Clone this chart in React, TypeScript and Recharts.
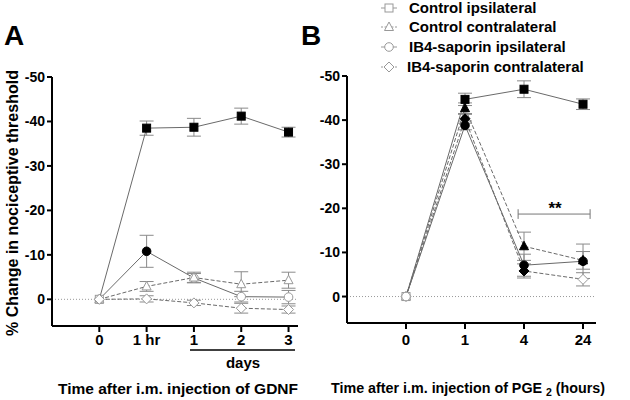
import { LineChart, Line, XAxis, YAxis, ErrorBar, ReferenceLine } from 'recharts'

// Panel A: GDNF time course
const gdnfX = [0, 1, 2, 3, 4]
const gdnfTicks = ['0', '1 hr', '1', '2', '3']
const gdnfCtrlIpsi = [0, -38.5, -38.7, -41.2, -37.6]
const gdnfCtrlIpsiErr = [0, 1.6, 2.0, 1.8, 1.1]
const gdnfCtrlIpsiFilled = [false, true, true, true, true]
const gdnfCtrlContra = [0, -2.9, -4.9, -3.4, -4.3]
const gdnfCtrlContraErr = [0, 1.1, 1.2, 2.8, 1.8]
const gdnfCtrlContraFilled = [false, false, false, false, false]
const gdnfIb4Ipsi = [0, -10.8, -4.8, -0.6, -0.5]
const gdnfIb4IpsiErr = [0, 3.6, 1.0, 1.2, 1.5]
const gdnfIb4IpsiFilled = [false, true, false, false, false]
const gdnfIb4Contra = [0, -0.1, 0.8, 2.0, 2.3]
const gdnfIb4ContraErr = [0, 0.7, 0.6, 1.1, 0.8]
const gdnfIb4ContraFilled = [false, false, false, false, false]

// Panel B: PGE2 time course
const pgeX = [0, 1, 2, 3]
const pgeTicks = ['0', '1', '4', '24']
const pgeCtrlIpsi = [0, -44.7, -47.0, -43.6]
const pgeCtrlIpsiErr = [0, 1.4, 1.9, 1.2]
const pgeCtrlIpsiFilled = [false, true, true, true]
const pgeCtrlContra = [0, -42.7, -11.4, -8.2]
const pgeCtrlContraErr = [0, 1.2, 3.2, 2.0]
const pgeCtrlContraFilled = [false, true, true, true]
const pgeIb4Ipsi = [0, -38.8, -7.1, -8.0]
const pgeIb4IpsiErr = [0, 1.0, 2.5, 3.9]
const pgeIb4IpsiFilled = [false, true, true, true]
const pgeIb4Contra = [0, -40.3, -5.8, -3.9]
const pgeIb4ContraErr = [0, 1.0, 1.6, 1.5]
const pgeIb4ContraFilled = [false, true, true, false]

const yTicks = [-50, -40, -30, -20, -10, 0]
const legendNames = [
  'Control ipsilateral',
  'Control contralateral',
  'IB4-saporin ipsilateral',
  'IB4-saporin contralateral',
]

const FONT = 'Liberation Sans, Arial, sans-serif'
const LINE = '#6a6a6a'
const ERR = '#8a8a8a'

type Shape = 'square' | 'triangle' | 'circle' | 'diamond'

function Marker({ cx, cy, shape, filled }: { cx: number; cy: number; shape: Shape; filled: boolean }) {
  const fill = filled ? '#000' : '#fff'
  const stroke = filled ? '#000' : '#999'
  const common = { fill, stroke, strokeWidth: 1 }
  if (shape === 'square') return <rect x={cx - 4} y={cy - 4} width={8} height={8} {...common} />
  if (shape === 'circle') return <circle cx={cx} cy={cy} r={4.3} {...common} />
  if (shape === 'triangle')
    return <polygon points={`${cx},${cy - 5} ${cx + 4.5},${cy + 3.5} ${cx - 4.5},${cy + 3.5}`} {...common} />
  return <polygon points={`${cx},${cy - 5} ${cx + 5},${cy} ${cx},${cy + 5} ${cx - 5},${cy}`} {...common} />
}

const dotFor = (shape: Shape, filled: boolean[]) => (props: any) => {
  const { cx, cy, index } = props
  if (cx == null || cy == null) return <g key={`n${index}`} />
  return (
    <g key={`${shape}${index}`}>
      <Marker cx={cx} cy={cy} shape={shape} filled={filled[index]} />
    </g>
  )
}

const gdnfData = gdnfX.map((x, i) => ({
  x,
  ci: gdnfCtrlIpsi[i],
  ciErr: gdnfCtrlIpsiErr[i],
  cc: gdnfCtrlContra[i],
  ccErr: gdnfCtrlContraErr[i],
  ii: gdnfIb4Ipsi[i],
  iiErr: gdnfIb4IpsiErr[i],
  ic: gdnfIb4Contra[i],
  icErr: gdnfIb4ContraErr[i],
}))

const pgeData = pgeX.map((x, i) => ({
  x,
  ci: pgeCtrlIpsi[i],
  ciErr: pgeCtrlIpsiErr[i],
  cc: pgeCtrlContra[i],
  ccErr: pgeCtrlContraErr[i],
  ii: pgeIb4Ipsi[i],
  iiErr: pgeIb4IpsiErr[i],
  ic: pgeIb4Contra[i],
  icErr: pgeIb4ContraErr[i],
}))

const xTickStyle = { fontFamily: FONT, fontSize: 15, fontWeight: 700, fill: '#000' }
const yTickStyle = { fontFamily: FONT, fontSize: 14, fontWeight: 700, fill: '#000' }
const axisLine = { stroke: '#000', strokeWidth: 2 }

function series(key: string, shape: Shape, filled: boolean[], dashed: boolean) {
  return (
    <Line
      key={key}
      type="linear"
      dataKey={key}
      stroke={LINE}
      strokeWidth={1}
      strokeDasharray={dashed ? '4 2' : undefined}
      dot={dotFor(shape, filled)}
      activeDot={false}
      isAnimationActive={false}
    >
      <ErrorBar dataKey={`${key}Err`} width={7} stroke={ERR} strokeWidth={1} direction="y" />
    </Line>
  )
}

export default function App() {
  return (
    <div style={{ position: 'absolute', left: 0, top: 0, width: 630, height: 400, background: '#fff' }}>
      <div style={{ position: 'absolute', left: 0, top: 0 }}>
        <LineChart width={310} height={400} data={gdnfData} margin={{ top: 77, right: 12, bottom: 44, left: 0 }}>
          <XAxis
            type="number"
            dataKey="x"
            domain={[-1, 4.2]}
            ticks={gdnfX}
            tickFormatter={(v: number) => gdnfTicks[v]}
            tick={xTickStyle}
            axisLine={axisLine}
            tickLine={axisLine}
            tickSize={6}
            tickMargin={2}
            height={30}
            allowDataOverflow
          />
          <YAxis
            type="number"
            domain={[-50, 6]}
            reversed
            ticks={yTicks}
            tick={yTickStyle}
            axisLine={axisLine}
            tickLine={axisLine}
            tickSize={5}
            tickMargin={2}
            width={52}
            allowDataOverflow
          />
          <ReferenceLine y={0} stroke="#999" strokeDasharray="1 2" />
          {series('ii', 'circle', gdnfIb4IpsiFilled, false)}
          {series('ci', 'square', gdnfCtrlIpsiFilled, false)}
          {series('cc', 'triangle', gdnfCtrlContraFilled, true)}
          {series('ic', 'diamond', gdnfIb4ContraFilled, true)}
        </LineChart>
      </div>
      <div style={{ position: 'absolute', left: 310, top: 0 }}>
        <LineChart width={320} height={400} data={pgeData} margin={{ top: 76, right: 34, bottom: 47, left: 0 }}>
          <XAxis
            type="number"
            dataKey="x"
            domain={[-1, 3.22]}
            ticks={pgeX}
            tickFormatter={(v: number) => pgeTicks[v]}
            tick={xTickStyle}
            axisLine={axisLine}
            tickLine={axisLine}
            tickSize={6}
            tickMargin={5}
            height={30}
            allowDataOverflow
          />
          <YAxis
            type="number"
            domain={[-50, 6]}
            reversed
            ticks={yTicks}
            tick={yTickStyle}
            axisLine={axisLine}
            tickLine={axisLine}
            tickSize={5}
            tickMargin={2}
            width={37}
            allowDataOverflow
          />
          <ReferenceLine y={0} stroke="#999" strokeDasharray="1 2" />
          <ReferenceLine segment={[{ x: 1.9, y: -18.7 }, { x: 3.12, y: -18.7 }]} stroke="#777" />
          <ReferenceLine segment={[{ x: 1.9, y: -17.6 }, { x: 1.9, y: -19.8 }]} stroke="#777" />
          <ReferenceLine segment={[{ x: 3.12, y: -17.6 }, { x: 3.12, y: -19.8 }]} stroke="#777" />
          {series('ci', 'square', pgeCtrlIpsiFilled, false)}
          {series('cc', 'triangle', pgeCtrlContraFilled, true)}
          {series('ic', 'diamond', pgeIb4ContraFilled, true)}
          {series('ii', 'circle', pgeIb4IpsiFilled, false)}
        </LineChart>
      </div>
      <svg
        width={630}
        height={400}
        style={{ position: 'absolute', left: 0, top: 0, pointerEvents: 'none' }}
        fontFamily={FONT}
        fontWeight={700}
      >
        <text x={4} y={45} fontSize={28}>A</text>
        <text x={301} y={45} fontSize={28}>B</text>
        <text x={18} y={203} fontSize={16} textAnchor="middle" transform="rotate(-90 18 203)">
          % Change in nociceptive threshold
        </text>
        <line x1={190} x2={295} y1={350} y2={350} stroke="#000" strokeWidth={1.5} />
        <text x={243} y={368} fontSize={15} textAnchor="middle">days</text>
        <text x={178} y={394} fontSize={15.5} textAnchor="middle">Time after i.m. injection of GDNF</text>
        <text x={331} y={393} fontSize={14.3} textAnchor="start">
          Time after i.m. injection of PGE <tspan fontSize={10.5} dy={3}>2</tspan>
          <tspan dy={-3}> (hours)</tspan>
        </text>
        <text x={555} y={214} fontSize={17} textAnchor="middle">**</text>
        {legendNames.map((name, i) => {
          const cy = [8, 27, 47, 67][i]
          const shape = (['square', 'triangle', 'circle', 'diamond'] as Shape[])[i]
          return (
            <g key={name}>
              <line
                x1={381}
                x2={397}
                y1={cy}
                y2={cy}
                stroke="#999"
                strokeWidth={1}
                strokeDasharray={i % 2 === 1 ? '2 1.5' : undefined}
              />
              <Marker cx={389} cy={cy} shape={shape} filled={false} />
              <text x={i === 3 ? 407 : 409} y={cy + 5} fontSize={15}>{name}</text>
            </g>
          )
        })}
      </svg>
    </div>
  )
}
